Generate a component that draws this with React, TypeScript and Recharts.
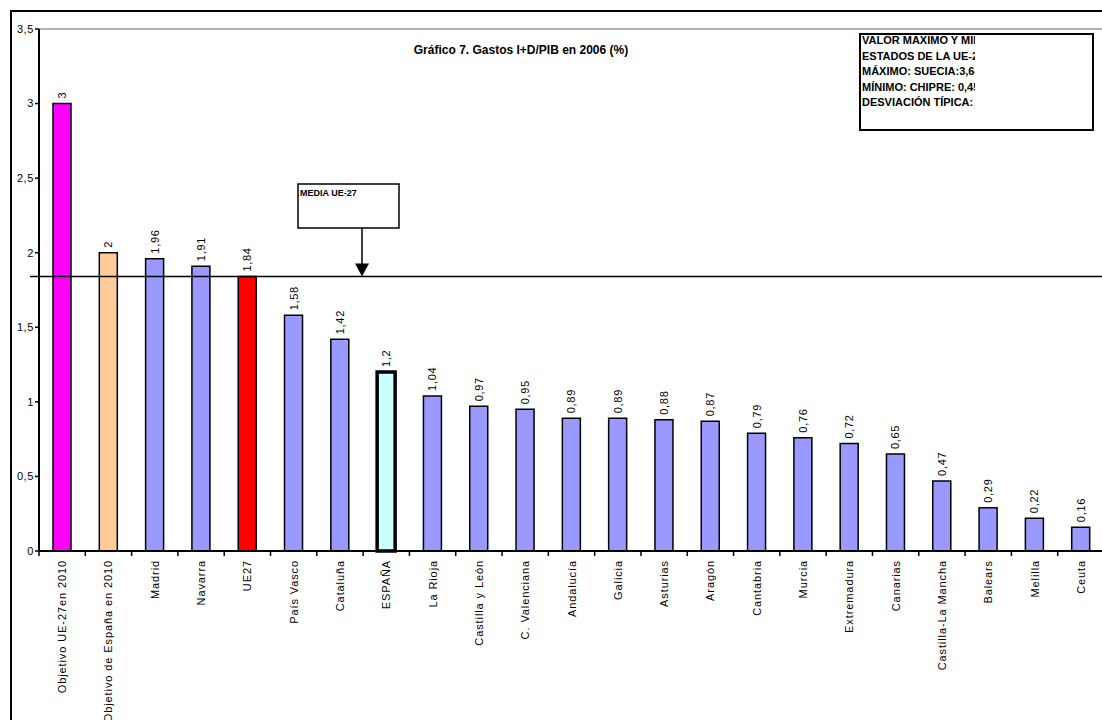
import React from "react";
import { BarChart, Bar, XAxis, YAxis, Cell, LabelList, ReferenceLine } from "recharts";

const regions = [
  "Objetivo UE-27en 2010",
  "Objetivo de  España en 2010",
  "Madrid",
  "Navarra",
  "UE27",
  "País Vasco",
  "Cataluña",
  "ESPAÑA",
  "La Rioja",
  "Castilla y León",
  "C. Valenciana",
  "Andalucía",
  "Galicia",
  "Asturias",
  "Aragón",
  "Cantabria",
  "Murcia",
  "Extremadura",
  "Canarias",
  "Castilla-La Mancha",
  "Balears",
  "Melilla",
  "Ceuta",
];

const gasto = [3, 2, 1.96, 1.91, 1.84, 1.58, 1.42, 1.2, 1.04, 0.97, 0.95, 0.89, 0.89, 0.88, 0.87, 0.79, 0.76, 0.72, 0.65, 0.47, 0.29, 0.22, 0.16];

const barColors = [
  "#FF00FF", "#FFCC99", "#9999FF", "#9999FF", "#FF0000", "#9999FF", "#9999FF", "#CCFFFF",
  "#9999FF", "#9999FF", "#9999FF", "#9999FF", "#9999FF", "#9999FF", "#9999FF", "#9999FF",
  "#9999FF", "#9999FF", "#9999FF", "#9999FF", "#9999FF", "#9999FF", "#9999FF",
];

const ueMedia = 1.84;
const yTicks = [0, 0.5, 1, 1.5, 2, 2.5, 3, 3.5];

const infoLines = [
  "VALOR MAXIMO Y MINIMO",
  "ESTADOS DE LA UE-27",
  "MÁXIMO:  SUECIA:3,64",
  "MÍNIMO: CHIPRE: 0,45",
  "DESVIACIÓN  TÍPICA: 0,8",
];

const data = regions.map((r, i) => ({ region: r, value: gasto[i] }));

const fmt = (v: number) => String(v).replace(".", ",");

const FONT = "'Liberation Sans', Arial, sans-serif";
const W = 1100;
const H = 720;
const M = { top: 17, right: 8, left: 7, bottom: 11 };
const Y_W = 20;
const PLOT_W = W - M.left - M.right - Y_W;
const BAND = PLOT_W / regions.length;

function CategoryTick(props: any) {
  const { x, y, payload } = props;
  const left = x - BAND / 2;
  return (
    <g>
      <line x1={left} y1={y - 8} x2={left} y2={y - 3} stroke="#000" strokeWidth={1.5} />
      {payload.index === regions.length - 1 && (
        <line x1={left + BAND} y1={y - 8} x2={left + BAND} y2={y - 3} stroke="#000" strokeWidth={1.5} />
      )}
      <text
        x={0}
        y={0}
        transform={`translate(${x + 4},${y + 1}) rotate(-90)`}
        textAnchor="end"
        fontSize={11}
        letterSpacing={0.9}
        fontFamily={FONT}
        fill="#000"
      >
        {payload.value}
      </text>
    </g>
  );
}

function ValueLabel(props: any) {
  const { x, y, width, value } = props;
  const cx = x + width / 2 + 4;
  return (
    <text
      transform={`translate(${cx},${y - 5}) rotate(-90)`}
      textAnchor="start"
      fontSize={11}
      letterSpacing={0.7}
      fontFamily={FONT}
      fill="#000"
    >
      {fmt(value)}
    </text>
  );
}

// media line, slightly past the axis, plus the arrow from the annotation box
function MediaLine(props: any) {
  const { x1, y1, x2, y2 } = props;
  const ax = 350;
  return (
    <g>
      <line x1={x1 - 9} y1={y1} x2={x2} y2={y2} stroke="#000" strokeWidth={1.5} />
      <line x1={ax} y1={216} x2={ax} y2={y1 - 12} stroke="#000" strokeWidth={1.5} />
      <polygon points={`${ax - 7},${y1 - 13} ${ax + 7},${y1 - 13} ${ax},${y1}`} fill="#000" />
    </g>
  );
}

export default function App() {
  return (
    <>
      <style>{`html,body{margin:0;padding:0;overflow:hidden;background:#fff}`}</style>
      <div
        style={{
          position: "absolute",
          left: 10,
          top: 10,
          width: 1092,
          height: 708,
          borderTop: "2px solid #000",
          borderLeft: "2px solid #000",
          overflow: "hidden",
          background: "#fff",
        }}
      >
        <BarChart width={W} height={H} data={data} margin={M} barSize={18}>
          <ReferenceLine y={3.5} stroke="#999" strokeWidth={1.5} />
          <XAxis
            dataKey="region"
            interval={0}
            height={170}
            axisLine={{ stroke: "#000", strokeWidth: 2 }}
            tickLine={false}
            tick={<CategoryTick />}
          />
          <YAxis
            width={Y_W}
            domain={[0, 3.5]}
            ticks={yTicks}
            tickFormatter={fmt}
            axisLine={{ stroke: "#000", strokeWidth: 2 }}
            tickLine={{ stroke: "#000", strokeWidth: 1.5 }}
            tickSize={4}
            tickMargin={1}
            tick={{ fontSize: 11, fill: "#000", fontFamily: FONT, letterSpacing: 0.6 }}
          />
          <Bar dataKey="value" stroke="#000" strokeWidth={1.5} isAnimationActive={false}>
            {data.map((d, i) => (
              <Cell key={d.region} fill={barColors[i]} strokeWidth={d.region === "ESPAÑA" ? 3.5 : 1.5} />
            ))}
            <LabelList dataKey="value" content={<ValueLabel />} />
          </Bar>
          <ReferenceLine y={ueMedia} shape={<MediaLine />} ifOverflow="visible" />
        </BarChart>
        <svg
          width={W}
          height={H}
          style={{ position: "absolute", left: 0, top: 0, pointerEvents: "none" }}
        >
          <defs>
            <clipPath id="infoClip">
              <rect x={849} y={23} width={114} height={94} />
            </clipPath>
          </defs>
          <text x={509} y={42} textAnchor="middle" fontSize={12} fontWeight="bold" fontFamily={FONT} fill="#000">
            Gráfico 7. Gastos I+D/PIB en 2006 (%)
          </text>
          <rect x={286} y={172} width={101} height={44} fill="#fff" stroke="#000" strokeWidth={1.5} />
          <text x={288} y={184} fontSize={9} fontWeight="bold" fontFamily={FONT} fill="#000">
            MEDIA UE-27
          </text>
          <rect x={848} y={22} width={233} height={96} fill="#fff" stroke="#000" strokeWidth={2} />
          <g clipPath="url(#infoClip)">
            {infoLines.map((t, i) => (
              <text
                key={t}
                x={850}
                y={32 + i * 15.5}
                fontSize={11}
                fontWeight="bold"
                fontFamily={FONT}
                fill="#000"
              >
                {t}
              </text>
            ))}
          </g>
        </svg>
      </div>
    </>
  );
}
